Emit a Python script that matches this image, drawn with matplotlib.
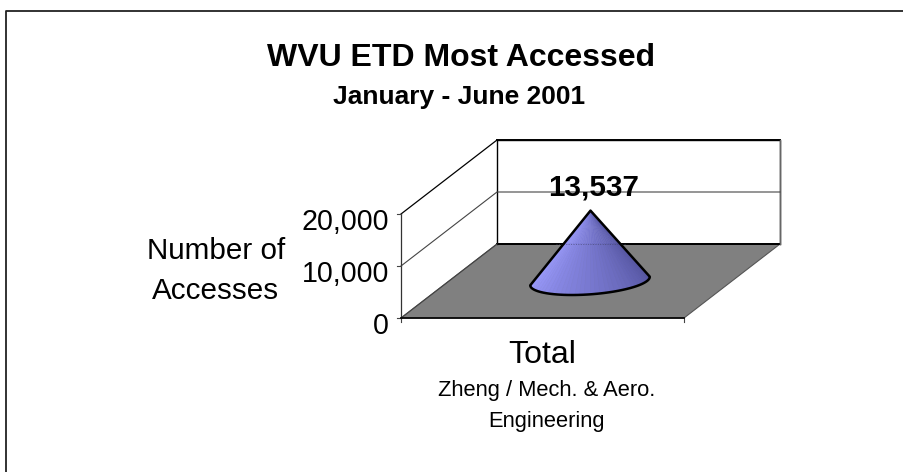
import numpy as np
from matplotlib import pyplot as plt
from matplotlib.patches import Polygon

plt.rcParams['font.family'] = ['Liberation Sans', 'DejaVu Sans']

# chart values
title = 'WVU ETD Most Accessed'
subtitle = 'January - June 2001'
y_label = 'Number of\nAccesses'
categories = ['Total']
category_note = 'Zheng / Mech. & Aero.\nEngineering'
values = [13537]
y_ticks = [0, 10000, 20000]
y_max = 20000

# oblique 3d box in pixels, front left corner is the origin
x0, y0 = 401, 318
box_w = 283
box_h = 104
depth_x, depth_y = 96, -74


def project(x, val, z):
    # x and z run 0..1 over the floor, val is in data units
    px = x0 + x * box_w + z * depth_x
    py = y0 - val / y_max * box_h + z * depth_y
    return px, py


def line(points, **kw):
    xs, ys = zip(*points)
    ax.plot(xs, ys, solid_capstyle='projecting', **kw)


fig = plt.figure(figsize=(9.04, 4.72), dpi=100)
ax = fig.add_axes([0, 0, 1, 1])
ax.set_xlim(0, 904)
ax.set_ylim(472, 0)
ax.axis('off')

# chart border, only top and left show
line([(6.5, 472), (6.5, 10.5), (904, 10.5)], c='#222222', lw=1.3)

# floor
floor = [project(0, 0, 0), project(1, 0, 0), project(1, 0, 1), project(0, 0, 1)]
ax.add_patch(Polygon(floor, fc='#808080', ec='#555555', lw=0.8, zorder=1))

# walls and gridlines
line([project(0, 0, 1), project(1, 0, 1)], c='black', lw=1.4, zorder=2)
line([project(0, 0, 1), project(0, y_max, 1), project(1, y_max, 1),
      project(1, 0, 1)], c='black', lw=1.0, zorder=2)
line([project(0, y_max, 1), project(1, y_max, 1)], c='black', lw=1.4, zorder=2)
line([project(1, y_max, 1), project(1, 0, 1)], c='#666666', lw=1.0, zorder=2)
line([project(0, 10000, 0), project(0, 10000, 1), project(1, 10000, 1)],
     c='#444444', lw=0.8, zorder=2)
line([project(0, y_max, 0), project(0, y_max, 1)], c='black', lw=0.9, zorder=2)
line([project(0, 0, 0), project(0, y_max, 0)], c='#333333', lw=0.9, zorder=2)
line([project(0, 0, 0), project(0, 0, 1)], c='#444444', lw=0.8, zorder=2)
line([project(0, 0, 0), project(1, 0, 0)], c='black', lw=1.2, zorder=3)

# y ticks and labels
for t in y_ticks:
    px, py = project(0, t, 0)
    line([(px - 4, py), (px, py)], c='#444444', lw=0.8, zorder=2)
    ax.text(px - 12, py + 8, f'{t:,}', ha='right', va='center', fontsize=20.6)

# x ticks
for x in [0, 1]:
    px, py = project(x, 0, 0)
    line([(px, py), (px, py + 4)], c='#444444', lw=0.8, zorder=2)

# cone
radius_x = 57
radius_dx, radius_dy = 18, -14
base_x, base_y = project(0.5, 0, 0.5)
base_x -= 0.5
apex = project(0.5, values[0], 0.5)
light = np.array([156, 156, 255]) / 255
dark = np.array([84, 84, 160]) / 255

t = np.linspace(0, 2 * np.pi, 241)
rim_x = base_x + radius_x * np.cos(t) + radius_dx * np.sin(t)
rim_y = base_y + radius_dy * np.sin(t)
left_i = np.argmin(rim_x[:240])
right_i = np.argmax(rim_x[:240])
# front arc from left to right going under the base
idx = np.arange(left_i, left_i + 241) % 240
idx = idx[:((right_i - left_i) % 240) + 1]
arc = list(zip(rim_x[idx], rim_y[idx]))

n_bands = 36
band_edges = np.linspace(0, len(arc) - 1, n_bands + 1).astype(int)
for i in range(n_bands):
    c = light + (dark - light) * (i / (n_bands - 1))
    band = [apex] + arc[band_edges[i]:band_edges[i + 1] + 1]
    ax.add_patch(Polygon(band, fc=c, ec=c, lw=0.4, zorder=4))

# floor edge seen faintly through the cone
back_left = project(0, 0, 1)
ax.plot([556, 626], [back_left[1], back_left[1]], c='#444466', lw=0.7,
        ls=(0, (1, 1.5)), alpha=0.6, zorder=5)

outline = [apex] + arc
ax.add_patch(Polygon(outline, closed=True, fc='none', ec='black', lw=1.8,
                     joinstyle='round', zorder=6))

# value label
ax.text(apex[0] + 3, 188, f'{values[0]:,}', ha='center', va='center',
        fontsize=21.3, fontweight='bold', zorder=7)

# titles
ax.text(461, 58, title, ha='center', va='center', fontsize=23,
        fontweight='bold')
ax.text(459, 97, subtitle, ha='center', va='center', fontsize=19,
        fontweight='bold')

# axis labels
ax.text(216, 271, y_label, ha='center', va='center', fontsize=21.3,
        linespacing=1.54)
ax.text(542, 355, categories[0], ha='center', va='center', fontsize=23)
ax.text(547, 406, category_note, ha='center', va='center', fontsize=15.75,
        linespacing=1.6)

fig.savefig('out.png', dpi=100)
